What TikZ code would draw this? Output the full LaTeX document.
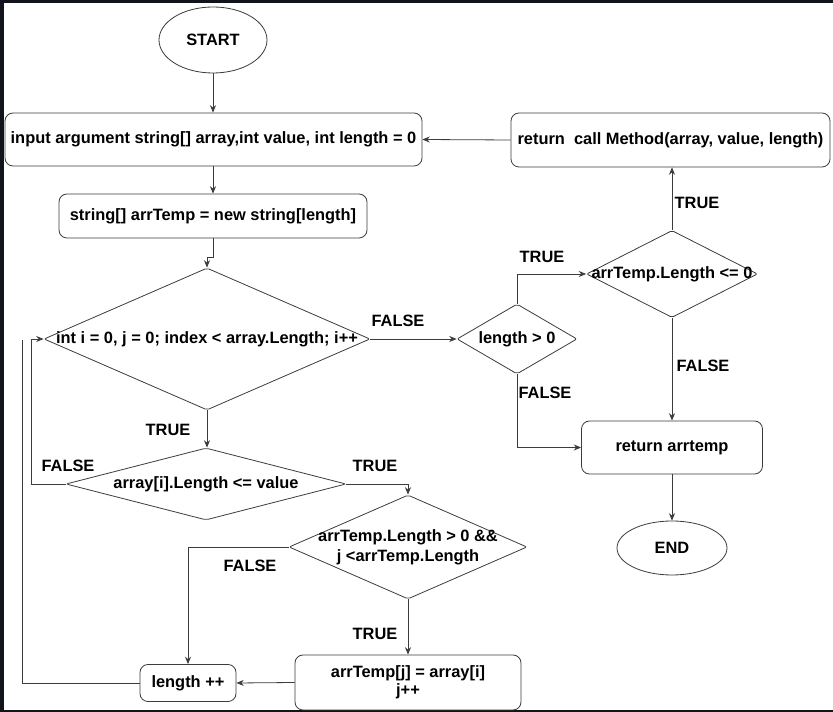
\documentclass[tikz,border=0pt]{standalone}
\usepackage{fontspec}
\setmainfont{Liberation Sans}
\usetikzlibrary{shapes.geometric,arrows.meta}
\definecolor{framec}{RGB}{17,20,26}
\definecolor{linec}{RGB}{60,60,60}
\begin{document}
\begin{tikzpicture}[x=0.75pt,y=-0.75pt,
  fnt/.style={font=\fontsize{12.3pt}{14.5pt}\selectfont\bfseries},
  base/.style={draw=linec, line width=0.6pt, fill=white, inner sep=0pt, fnt, align=center},
  boxst/.style={base, rectangle, rounded corners=6pt},
  ovalst/.style={base, ellipse},
  diast/.style={base, diamond, rounded corners=1.5pt},
  txt/.style={fnt, inner sep=0pt, align=center},
  lbl/.style={fnt, inner sep=0pt},
  conn/.style={draw=linec, line width=0.6pt, -{Stealth[length=5.5pt,width=4.5pt]}},
  wire/.style={draw=linec, line width=0.6pt}
]
\useasboundingbox (0,0) rectangle (833,712);
\fill[framec] (0,0) rectangle (833,712);
\fill[white] (4,3) rectangle (833,710);

% nodes
\node[ovalst, minimum width=108*0.75pt, minimum height=66*0.75pt] (start) at (213,40) {START};
\node[boxst, minimum width=417*0.75pt, minimum height=53*0.75pt] (input) at (213.5,139.5) {input argument string[] array,int value, int length = 0};
\node[boxst, minimum width=319*0.75pt, minimum height=54*0.75pt] (retcall) at (670.5,140) {return\ \ call Method(array, value, length)};
\node[boxst, minimum width=308*0.75pt, minimum height=44*0.75pt] (arrtemp) at (213,216) {string[] arrTemp = new string[length]};

\node[diast, minimum width=326*0.75pt, minimum height=142*0.75pt] (d1) at (207,339) {};
\node[txt] (t1) at (d1) {int i = 0, j = 0; index < array.Length; i++};

\node[diast, minimum width=280*0.75pt, minimum height=72*0.75pt] (d2) at (206,484) {};
\node[txt] (t2) at (d2) {array[i].Length <= value};

\node[diast, minimum width=238*0.75pt, minimum height=104*0.75pt] (d3) at (408,547) {};
\node[txt, font=\fontsize{12.3pt}{15pt}\selectfont\bfseries] (t3) at (d3) {arrTemp.Length > 0 \&\&\\j <arrTemp.Length};

\node[boxst, minimum width=96*0.75pt, minimum height=37*0.75pt] (lenpp) at (188,683) {length ++};
\node[boxst, minimum width=226*0.75pt, minimum height=55*0.75pt, font=\fontsize{12.3pt}{13.5pt}\selectfont\bfseries] (assign) at (408,682.5) {arrTemp[j] = array[i]\\j++};

\node[diast, minimum width=120*0.75pt, minimum height=70*0.75pt] (d4) at (517,339) {};
\node[txt] (t4) at (d4) {length > 0};

\node[diast, minimum width=171*0.75pt, minimum height=87*0.75pt] (d5) at (672,274) {};
\node[txt] (t5) at (d5) {arrTemp.Length <= 0};

\node[boxst, minimum width=181*0.75pt, minimum height=53*0.75pt] (retarr) at (672,447.5) {return arrtemp};
\node[ovalst, minimum width=110*0.75pt, minimum height=54*0.75pt] (end) at (672,548) {END};

% labels
\node[lbl] (l1) at (398,321) {FALSE};
\node[lbl] (l2) at (168,430) {TRUE};
\node[lbl] (l3) at (68,466) {FALSE};
\node[lbl] (l4) at (375,466) {TRUE};
\node[lbl] (l5) at (250,566) {FALSE};
\node[lbl] (l6) at (375,634) {TRUE};
\node[lbl] (l7) at (542,257) {TRUE};
\node[lbl] (l8) at (545,393) {FALSE};
\node[lbl] (l9) at (697,203) {TRUE};
\node[lbl] (l10) at (703,366) {FALSE};

% connectors
\draw[conn] (start.south) -- (start.south |- input.north);
\draw[conn] (retcall.west) -- (input.east);
\draw[conn] (input.south -| arrtemp.north) -- (arrtemp.north);
\draw[conn] (arrtemp.south) -- ++(0,19) -| (d1.north);
\draw[conn] (d1.east) -- (d4.west);
\draw[conn] (d1.south) -- (d1.south |- d2.north);
\draw[conn] (d2.west) -- ++(-34,0) |- (d1.west);
\draw[conn] (d2.east) -| (d3.north);
\draw[conn] (d3.west) -| (lenpp.north);
\draw[conn] (d3.south) -- (assign.north);
\draw[conn] (assign.west) -- (lenpp.east);
\draw[wire] (lenpp.west) -- ++(-117,0) -- ++(0,-343);
\draw[conn] (d4.north) |- (d5.west);
\draw[conn] (d4.south) |- (retarr.west);
\draw[conn] (d5.north) -- (d5.north |- retcall.south);
\draw[conn] (d5.south) -- (retarr.north);
\draw[conn] (retarr.south) -- (end.north);
\end{tikzpicture}
\end{document}
